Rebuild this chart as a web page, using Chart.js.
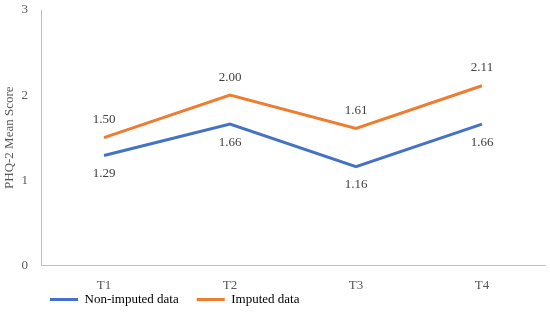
<!DOCTYPE html>
<html><head><meta charset="utf-8">
<script src="https://cdn.jsdelivr.net/npm/chart.js@4"></script>
<style>html,body{margin:0;padding:0;background:#fff}#w{width:550px;height:321px}</style>
</head><body><div id="w"><canvas id="c"></canvas></div>
<script>
const categories = ['T1','T2','T3','T4'];
const nonImputed = [1.29, 1.66, 1.16, 1.66];
const imputed = [1.50, 2.00, 1.61, 2.11];
const yTicks = [0, 1, 2, 3];
const seriesNames = ['Non-imputed data', 'Imputed data'];

const FONT = '"Liberation Serif", "DejaVu Serif", serif';
const FS = 13;
const labelPlugin = {
  id: 'labels',
  afterDatasetsDraw(chart) {
    const ctx = chart.ctx;
    ctx.save();
    ctx.font = FS + 'px ' + FONT;
    ctx.fillStyle = '#404040';
    ctx.textAlign = 'center';
    ctx.textBaseline = 'middle';
    chart.data.datasets.forEach((ds, i) => {
      const meta = chart.getDatasetMeta(i);
      meta.data.forEach((pt, j) => {
        const off = i === 1 ? -18 : 18;
        ctx.fillText(ds.data[j].toFixed(2), pt.x, pt.y + off);
      });
    });
    ctx.restore();
  }
};
// tighten legend box so its items sit closer to the x tick labels
const legendTweak = {
  id: 'legendTweak',
  beforeLayout(chart) {
    const lg = chart.legend;
    if (lg && !lg._patched) {
      const orig = lg.fit;
      lg.fit = function () { orig.call(this); this.height -= 25; };
      lg._patched = true;
    }
  },
  afterLayout(chart) {
    const lg = chart.legend;
    if (lg) { lg.top -= 30; lg.left = 32; }
  }
};

new Chart(document.getElementById('c'), {
  type: 'line',
  data: {
    labels: categories,
    datasets: [
      {label: seriesNames[0], data: nonImputed, borderColor: '#4472C4', backgroundColor: '#4472C4', borderWidth: 3, pointRadius: 0, tension: 0},
      {label: seriesNames[1], data: imputed, borderColor: '#ED7D31', backgroundColor: '#ED7D31', borderWidth: 3, pointRadius: 0, tension: 0}
    ]
  },
  options: {
    responsive: true, maintainAspectRatio: false, animation: false,
    layout: {padding: {top: 0, right: 5, left: 0, bottom: 0}},
    plugins: {
      tooltip: {enabled: false},
      legend: {
        position: 'bottom',
        align: 'start',
        labels: {
          font: {family: FONT, size: FS}, color: '#404040',
          boxWidth: 28, boxHeight: 3, padding: 18,
          generateLabels(chart) {
            return chart.data.datasets.map((d, i) => ({
              text: d.label, fillStyle: d.borderColor, strokeStyle: d.borderColor, lineWidth: 0, datasetIndex: i, hidden: false
            }));
          }
        }
      }
    },
    scales: {
      x: {
        offset: true,
        grid: {display: false, drawTicks: false},
        border: {display: true, color: '#BFBFBF', width: 1},
        ticks: {font: {family: FONT, size: FS}, color: '#595959', padding: 12}
      },
      y: {
        min: 0, max: 3,
        afterBuildTicks(axis) { axis.ticks = yTicks.map(v => ({value: v})); },
        afterFit(axis) { axis.width = 41; axis.paddingTop = 10; },
        grid: {display: false, drawTicks: false},
        border: {display: true, color: '#BFBFBF', width: 1},
        ticks: {font: {family: FONT, size: FS}, color: '#595959', padding: 13},
        title: {display: true, text: 'PHQ-2 Mean Score', font: {family: FONT, size: FS}, color: '#595959', padding: {top: 2, bottom: 0}}
      }
    }
  },
  plugins: [labelPlugin, legendTweak]
});
</script></body></html>
